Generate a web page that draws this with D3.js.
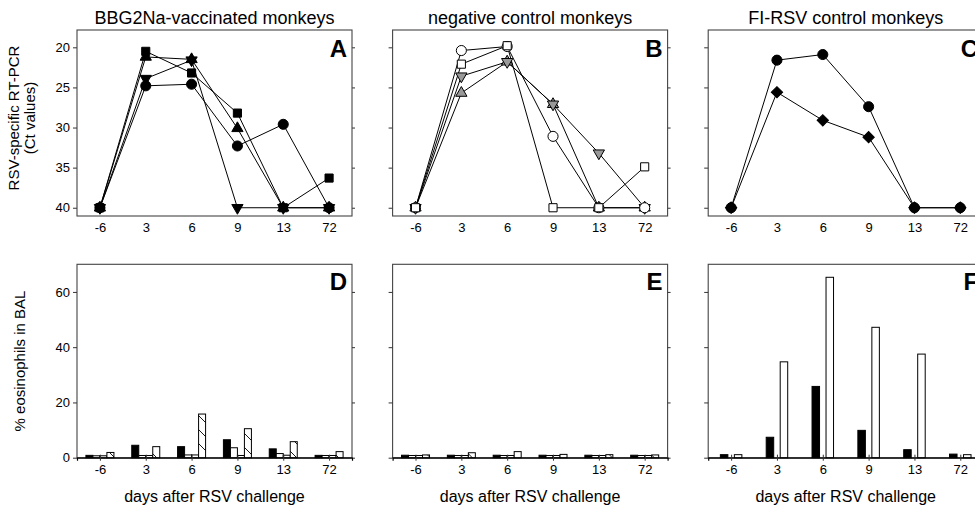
<!DOCTYPE html>
<html><head><meta charset="utf-8">
<script src="https://cdn.jsdelivr.net/npm/d3@7"></script>
<style>
body{margin:0;background:#fff;}
svg{display:block;font-family:"Liberation Sans",Arial,sans-serif;}
</style></head>
<body><svg id="c" width="975" height="509"></svg>
<script>
// ---- data ----
const days = ["-6","3","6","9","13","72"];
const ctTicks = [20,25,30,35,40];
const eosTicks = [0,20,40,60];
const titles = ["BBG2Na-vaccinated monkeys","negative control monkeys","FI-RSV control monkeys"];
const topLetters = ["A","B","C"];
const bottomLetters = ["D","E","F"];
const yLabelTop1 = "RSV-specific RT-PCR";
const yLabelTop2 = "(Ct values)";
const yLabelBottom = "% eosinophils in BAL";
const xLabel = "days after RSV challenge";

// Panel A (Ct values)
const vacSquare  = [40, 20.5, 23.2, 28.2, 40, 36.3];
const vacTriUp   = [40, 21.2, 21.5, 30.1, 40, 40];
const vacTriDown = [40, 23.9, 21.6, 40, 40, 40];
const vacCircle  = [40, 24.8, 24.6, 32.3, 29.6, 40];
// Panel B
const negCircle  = [40, 20.4, 19.9, 31.1, 40, 40];
const negSquare  = [40, 22.1, 19.8, 40, 40, 34.9];
const negTriDown = [40, 23.6, 21.8, 27.1, 33.2, 40];
const negTriUp   = [40, 25.7, 21.8, 27.1, 40, 40];
// Panel C
const fiCircle   = [40, 21.6, 20.9, 27.4, 40, 40];
const fiDiamond  = [40, 25.6, 29.1, 31.2, 40, 40];

// Panel D (% eosinophils)
const vacEos1 = [0.85, 4.5, 4.0, 6.5, 3.2, 0.85];
const vacEos2 = [0.7, 0.8, 1.0, 3.6, 1.5, 0.8];
const vacEos3 = [0.7, 0.8, 1.0, 0.8, 0.9, 0.8];
const vacEos4 = [1.9, 4.0, 15.8, 10.5, 5.8, 2.2];
// Panel E
const negEos1 = [0.9, 0.9, 0.9, 0.9, 0.9, 0.9];
const negEos2 = [0.8, 0.8, 0.8, 0.8, 0.8, 0.8];
const negEos3 = [0.8, 0.8, 0.8, 0.8, 0.8, 0.8];
const negEos4 = [1.0, 1.8, 2.2, 1.2, 1.1, 1.0];
// Panel F
const fiEosBlack = [1.1, 7.4, 25.8, 9.9, 2.9, 1.3];
const fiEosWhite = [1.1, 34.7, 65.3, 47.2, 37.5, 1.1];

// ---- layout ----
const svg = d3.select("#c");
const FONT = '"Liberation Sans",Arial,sans-serif';
const panelW = 275;
const panelLeft = i => 77 + i*315.6;
const topY0 = 30, topY1 = 216;
const botY0 = 264.3, botY1 = 457.7;

const x = d3.scalePoint().domain(days).range([0, panelW]).padding(0.5);
const yCt = d3.scaleLinear().domain([17.84, 41.03]).range([topY0, topY1]);
const yEos = d3.scaleLinear().domain([0, 70]).range([botY1, botY0]);

const defs = svg.append("defs");
const pat = defs.append("pattern").attr("id","hatch").attr("patternUnits","userSpaceOnUse")
  .attr("width",14).attr("height",14);
pat.append("rect").attr("width",14).attr("height",14).attr("fill","#fff");
pat.append("path").attr("d","M0,0L14,14M-7,7L7,21").attr("stroke","#000").attr("stroke-width",0.9);

const symType = {
  square: d3.symbolSquare, circle: d3.symbolCircle, triUp: d3.symbolTriangle,
  triDown: d3.symbolTriangle, diamond: d3.symbolSquare
};
const symSize = {square: 66, circle: 80, triUp: 55, triDown: 55, diamond: 64};
const symRot = {triDown: 180, diamond: 45};

const topSeries = [
  [ {v: vacSquare, s:"square", f:"#000"}, {v: vacTriUp, s:"triUp", f:"#000"},
    {v: vacTriDown, s:"triDown", f:"#000"}, {v: vacCircle, s:"circle", f:"#000"} ],
  [ {v: negTriUp, s:"triUp", f:"#999"}, {v: negTriDown, s:"triDown", f:"#999"},
    {v: negCircle, s:"circle", f:"#fff"}, {v: negSquare, s:"square", f:"#fff"} ],
  [ {v: fiDiamond, s:"diamond", f:"#000"}, {v: fiCircle, s:"circle", f:"#000"} ]
];

const botSeries = [
  [ {v: vacEos1, f:"#000"}, {v: vacEos2, f:"#fff"}, {v: vacEos3, f:"#fff"}, {v: vacEos4, f:"url(#hatch)"} ],
  [ {v: negEos1, f:"#000"}, {v: negEos2, f:"#fff"}, {v: negEos3, f:"#fff"}, {v: negEos4, f:"url(#hatch)"} ],
  [ {v: fiEosBlack, f:"#000"}, {v: fiEosWhite, f:"#fff"} ]
];

// ---- top panels ----
topSeries.forEach((series, i) => {
  const g = svg.append("g").attr("transform", `translate(${panelLeft(i)},0)`);
  g.append("text").attr("x", panelW/2).attr("y", 24).attr("text-anchor","middle")
    .attr("font-size", 18).attr("fill","#000").text(titles[i]);
  const la = g.append("g").call(d3.axisLeft(yCt).tickValues(ctTicks).tickSize(4).tickPadding(3));
  la.select(".domain").remove();
  la.selectAll("text").attr("font-size",13).attr("font-family",FONT).attr("fill","#000");
  if (i > 0) la.selectAll("text").remove();
  const ra = g.append("g").attr("transform",`translate(${panelW},0)`)
    .call(d3.axisRight(yCt).tickValues(ctTicks).tickSize(3).tickFormat(""));
  ra.select(".domain").remove();
  const ba = g.append("g").attr("transform",`translate(0,${topY1})`)
    .call(d3.axisBottom(x).tickSize(0).tickPadding(7));
  ba.select(".domain").remove();
  ba.selectAll("text").attr("font-size",13).attr("font-family",FONT).attr("fill","#000");
  g.selectAll(".tick line").attr("stroke","#333");
  g.append("rect").attr("x",0).attr("y",topY0).attr("width",panelW).attr("height",topY1-topY0)
    .attr("fill","none").attr("stroke","#444").attr("stroke-width",1.1);
  const line = d3.line().x((d,k)=>x(days[k])).y(d=>yCt(d));
  series.forEach(s => {
    g.append("path").datum(s.v).attr("d", line).attr("fill","none")
      .attr("stroke","#000").attr("stroke-width",1);
  });
  series.forEach(s => {
    g.selectAll(null).data(s.v).join("path")
      .attr("d", d3.symbol().type(symType[s.s]).size(symSize[s.s]))
      .attr("transform", (d,k)=>`translate(${x(days[k])},${yCt(d)})${symRot[s.s]?` rotate(${symRot[s.s]})`:""}`)
      .attr("fill", s.f).attr("stroke","#000").attr("stroke-width",1);
  });
  g.append("text").attr("x", panelW-5).attr("y", 57).attr("text-anchor","end")
    .attr("font-size", 24).attr("font-weight","bold").text(topLetters[i]);
});

// ---- bottom panels ----
botSeries.forEach((series, i) => {
  const g = svg.append("g").attr("transform", `translate(${panelLeft(i)},0)`);
  const inner = d3.scaleBand().domain(d3.range(series.length));
  if (series.length === 4) inner.range([-14, 14]).paddingInner(0);
  else inner.range([-10.75, 10.75]).paddingInner(0.464);

  g.append("rect").attr("x",0).attr("y",botY0).attr("width",panelW).attr("height",botY1-botY0)
    .attr("fill","none").attr("stroke","#444").attr("stroke-width",1.1);

  series.forEach((s, j) => {
    g.selectAll(null).data(s.v).join("rect")
      .attr("x", (d,k)=> x(days[k]) + inner(j))
      .attr("width", inner.bandwidth())
      .attr("y", d => yEos(d))
      .attr("height", d => yEos(0) - yEos(d))
      .attr("fill", s.f).attr("stroke","#000").attr("stroke-width",1);
  });

  const la = g.append("g").call(d3.axisLeft(yEos).tickValues(eosTicks).tickSize(4).tickPadding(3));
  la.select(".domain").remove();
  la.selectAll("text").attr("font-size",13).attr("font-family",FONT).attr("fill","#000");
  if (i > 0) la.selectAll("text").remove();
  const ra = g.append("g").attr("transform",`translate(${panelW},0)`)
    .call(d3.axisRight(yEos).tickValues(eosTicks).tickSize(3).tickFormat(""));
  ra.select(".domain").remove();
  const ba = g.append("g").attr("transform",`translate(0,${botY1})`)
    .call(d3.axisBottom(x).tickSize(3).tickPadding(4));
  ba.select(".domain").attr("stroke","#000").attr("stroke-width",1.2);
  ba.selectAll(".tick line").attr("y1",-3).attr("y2",3).attr("stroke","#000");
  ba.selectAll("text").attr("font-size",13).attr("font-family",FONT).attr("fill","#000");
  g.selectAll(".tick line").attr("stroke","#333");

  g.append("text").attr("x", panelW/2).attr("y", 502).attr("text-anchor","middle")
    .attr("font-size", 16).attr("fill","#000").text(xLabel);
  g.append("text").attr("x", panelW-5).attr("y", 290).attr("text-anchor","end")
    .attr("font-size", 24).attr("font-weight","bold").text(bottomLetters[i]);
});

// ---- y labels ----
svg.append("text").attr("transform","translate(19,118) rotate(-90)").attr("text-anchor","middle")
  .attr("font-size",15).text(yLabelTop1);
svg.append("text").attr("transform","translate(35,118) rotate(-90)").attr("text-anchor","middle")
  .attr("font-size",15).text(yLabelTop2);
svg.append("text").attr("transform","translate(25,361) rotate(-90)").attr("text-anchor","middle")
  .attr("font-size",15).text(yLabelBottom);
</script></body></html>
